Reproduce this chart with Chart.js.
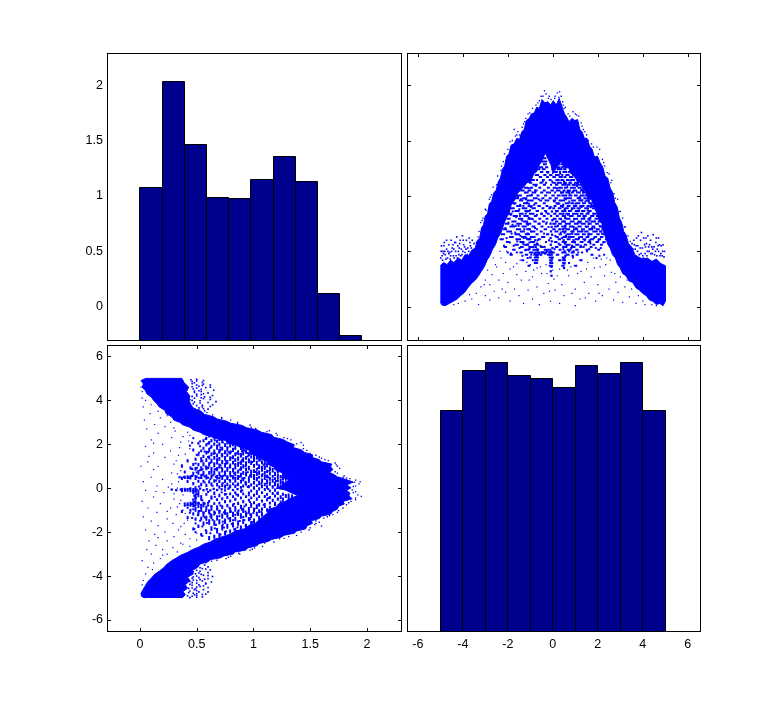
<!DOCTYPE html>
<html>
<head>
<meta charset="utf-8">
<title>plotmatrix</title>
<script src="https://cdn.jsdelivr.net/npm/chart.js@4/dist/chart.umd.min.js"></script>
<style>
  html, body { margin: 0; background: #fff; }
  canvas { position: absolute; }
</style>
</head>
<body>
<canvas id="c-tl" width="349" height="323" style="left:57px;top:47px"></canvas>
<canvas id="c-tr" width="348" height="323" style="left:357px;top:47px"></canvas>
<canvas id="c-bl" width="349" height="322" style="left:57px;top:339px"></canvas>
<canvas id="c-br" width="348" height="322" style="left:357px;top:339px"></canvas>
<script>
// histogram of the first variable (0..2)
const histAX = [0.098, 0.293, 0.489, 0.684, 0.880, 1.075, 1.271, 1.466, 1.662, 1.857];
const histAY = [1.074, 2.03, 1.462, 0.983, 0.974, 1.146, 1.353, 1.128, 0.117, -0.262];
// histogram of the second variable (-5..5)
const histBX = [-4.5, -3.5, -2.5, -1.5, -0.5, 0.5, 1.5, 2.5, 3.5, 4.5];
const histBY = [3.55, 5.37, 5.73, 5.14, 5.0, 4.6, 5.6, 5.24, 5.73, 3.55];

const ticksA = [0, 0.5, 1, 1.5, 2];
const ticksB = [-6, -4, -2, 0, 2, 4, 6];

// solid part of the cloud, outline
const bandX = [-5, -4.85, -4.7, -4.55, -4.4, -4.2, -4.05, -3.9, -3.75, -3.6, -3.45, -3.35, -3.25, -3.17, -3.08, -3, -2.9, -2.82, -2.72, -2.62, -2.52, -2.42, -2.33, -2.24, -2.14, -2.05, -1.95, -1.85, -1.72, -1.6, -1.48, -1.38, -1.27, -1.18, -1.05, -0.95, -0.82, -0.72, -0.6, -0.48, -0.35, -0.22, -0.1, 0.02, 0.15, 0.28, 0.42, 0.52, 0.62, 0.72, 0.85, 0.98, 1.1, 1.2, 1.3, 1.4, 1.52, 1.63, 1.75, 1.85, 1.98, 2.1, 2.22, 2.32, 2.44, 2.55, 2.66, 2.75, 2.86, 2.96, 3.06, 3.15, 3.25, 3.36, 3.5, 3.65, 3.8, 4, 4.2, 4.4, 4.6, 4.8, 5,
  5, 4.9, 4.75, 4.6, 4.44, 4.3, 4.15, 4, 3.85, 3.7, 3.55, 3.4, 3.25, 3.1, 3, 2.88, 2.78, 2.65, 2.55, 2.45, 2.36, 2.25, 2.18, 2.05, 1.95, 1.82, 1.72, 1.58, 1.47, 1.34, 1.22, 1.08, 0.95, 0.8, 0.68, 0.5, 0.38, 0.22, 0.1, 0, -0.08, -0.2, -0.34, -0.45, -0.6, -0.72, -0.85, -0.98, -1.15, -1.3, -1.45, -1.58, -1.7, -1.85, -1.95, -2.08, -2.2, -2.32, -2.45, -2.55, -2.68, -2.8, -2.92, -3.05, -3.18, -3.3, -3.45, -3.62, -3.78, -3.92, -4.1, -4.25, -4.42, -4.6, -4.78, -4.92, -5];
const bandY = [0.37, 0.4, 0.38, 0.42, 0.4, 0.44, 0.42, 0.47, 0.46, 0.51, 0.53, 0.6, 0.62, 0.71, 0.74, 0.82, 0.84, 0.93, 0.95, 1.03, 1.05, 1.13, 1.16, 1.24, 1.27, 1.36, 1.38, 1.46, 1.47, 1.52, 1.51, 1.58, 1.6, 1.68, 1.7, 1.74, 1.75, 1.8, 1.79, 1.87, 1.84, 1.85, 1.82, 1.86, 1.82, 1.88, 1.8, 1.74, 1.71, 1.67, 1.7, 1.68, 1.69, 1.6, 1.58, 1.52, 1.52, 1.45, 1.42, 1.35, 1.36, 1.3, 1.26, 1.18, 1.16, 1.07, 1.03, 0.94, 0.9, 0.8, 0.76, 0.68, 0.65, 0.57, 0.54, 0.47, 0.45, 0.43, 0.44, 0.41, 0.43, 0.39, 0.37,
  0.05, 0.01, 0.03, 0.02, 0.05, 0.06, 0.1, 0.12, 0.15, 0.17, 0.22, 0.23, 0.28, 0.3, 0.35, 0.38, 0.44, 0.47, 0.53, 0.56, 0.62, 0.68, 0.75, 0.78, 0.85, 0.9, 0.97, 0.97, 1.03, 1.06, 1.12, 1.13, 1.19, 1.2, 1.27, 1.25, 1.32, 1.27, 1.25, 1.2, 1.28, 1.33, 1.39, 1.33, 1.28, 1.22, 1.2, 1.13, 1.12, 1.08, 1.05, 1.02, 0.96, 0.92, 0.84, 0.8, 0.73, 0.66, 0.62, 0.56, 0.52, 0.46, 0.42, 0.36, 0.32, 0.28, 0.24, 0.21, 0.17, 0.13, 0.1, 0.07, 0.05, 0.03, 0.01, 0.015, 0.04];

// busy middle of the cloud: short runs of pixels, each row of y has a flat list of x from, x to
const clutterY = [1.34, 1.31, 1.285, 1.26, 1.24, 1.215, 1.19, 1.17, 1.145, 1.12, 1.1, 1.075, 1.05, 1.03, 1.005, 0.98, 0.96, 0.935, 0.91, 0.89, 0.865, 0.84, 0.82, 0.795, 0.77, 0.75, 0.725, 0.7, 0.68, 0.655, 0.63, 0.61, 0.585, 0.56, 0.54, 0.515, 0.49, 0.47, 0.445, 0.42, 0.395, 0.37];
const clutterX = [
  [-0.42, -0.33],
  [-0.5, -0.44, -0.36, -0.29, 0.28, 0.36],
  [-0.4, -0.31, 0.22, 0.27, 0.38, 0.46],
  [-0.57, -0.47, -0.3, -0.25, 0.16, 0.3, 0.41, 0.44, 0.6, 0.66],
  [-0.66, -0.6, -0.44, -0.37, 0.08, 0.12, 0.23, 0.38, 0.5, 0.56],
  [-0.53, -0.47, -0.26, -0.2, 0.05, 0.18, 0.32, 0.36, 0.47, 0.6, 0.72, 0.8],
  [-0.76, -0.66, -0.38, -0.33, -0.12, -0.06, 0.14, 0.26, 0.42, 0.45, 0.6, 0.7, 0.9, 0.94],
  [-0.58, -0.52, -0.26, -0.22, 0.02, 0.07, 0.3, 0.4, 0.52, 0.56, 0.76, 0.87, 1.0, 1.06],
  [-0.92, -0.84, -0.7, -0.66, -0.44, -0.4, -0.14, -0.1, 0.16, 0.26, 0.38, 0.46, 0.63, 0.7, 0.84, 0.94],
  [-1.02, -0.96, -0.55, -0.5, -0.3, -0.26, 0.02, 0.09, 0.22, 0.36, 0.5, 0.58, 0.74, 0.8, 0.99, 1.12],
  [-0.86, -0.72, -0.4, -0.35, -0.08, -0.04, 0.14, 0.2, 0.42, 0.56, 0.66, 0.74, 0.88, 0.94, 1.08, 1.2],
  [-1.24, -1.14, -0.98, -0.92, -0.6, -0.56, -0.22, -0.18, 0.04, 0.1, 0.28, 0.4, 0.54, 0.6, 0.8, 0.98, 1.14, 1.22],
  [-1.4, -1.3, -1.08, -1.0, -0.76, -0.72, -0.4, -0.36, -0.06, 0, 0.18, 0.3, 0.48, 0.52, 0.66, 0.76, 0.92, 1.04, 1.26, 1.34],
  [-1.2, -1.12, -0.9, -0.78, -0.52, -0.47, -0.26, -0.22, 0.1, 0.14, 0.36, 0.46, 0.6, 0.72, 0.84, 0.88, 1.08, 1.2, 1.36, 1.42],
  [-1.56, -1.42, -1.04, -0.94, -0.68, -0.64, -0.34, -0.3, -0.02, 0.04, 0.22, 0.3, 0.42, 0.6, 0.74, 0.82, 0.98, 1.06, 1.24, 1.36, 1.46, 1.52],
  [-1.64, -1.54, -1.32, -1.18, -0.84, -0.72, -0.46, -0.42, -0.14, -0.1, 0.12, 0.18, 0.52, 0.58, 0.66, 0.8, 1.1, 1.22, 1.4, 1.46, 1.56, 1.62],
  [-1.46, -1.36, -1.12, -1.02, -0.96, -0.9, -0.56, -0.52, -0.24, -0.2, 0.04, 0.1, 0.3, 0.4, 0.46, 0.5, 0.86, 0.98, 1.18, 1.3, 1.5, 1.58],
  [-1.76, -1.66, -1.28, -1.14, -0.78, -0.74, -0.4, -0.36, 0.16, 0.24, 0.58, 0.7, 0.82, 0.9, 1.06, 1.18, 1.34, 1.42, 1.62, 1.7],
  [-1.58, -1.44, -1.08, -0.94, -0.64, -0.58, -0.28, -0.24, 0.08, 0.12, 0.36, 0.44, 0.66, 0.74, 0.94, 1.04, 1.22, 1.36, 1.54, 1.6, 1.72, 1.8],
  [-1.86, -1.74, -1.34, -1.18, -0.9, -0.8, -0.46, -0.42, -0.16, -0.12, 0.02, 0.06, 0.26, 0.34, 0.56, 0.66, 0.84, 0.96, 1.1, 1.2, 1.44, 1.56, 1.78, 1.84],
  [-1.66, -1.52, -1.22, -1.06, -0.72, -0.66, -0.34, -0.3, 0.14, 0.22, 0.42, 0.56, 0.72, 0.8, 1.02, 1.16, 1.3, 1.4, 1.62, 1.68],
  [-1.94, -1.84, -1.46, -1.34, -1.02, -0.86, -0.52, -0.48, -0.22, -0.18, 0.06, 0.12, 0.3, 0.38, 0.6, 0.72, 0.9, 1.04, 1.24, 1.32, 1.5, 1.58, 1.84, 1.9],
  [-1.74, -1.6, -1.26, -1.12, -0.8, -0.74, -0.4, -0.36, 0.18, 0.22, 0.44, 0.54, 0.76, 0.88, 1.12, 1.2, 1.36, 1.46, 1.7, 1.8, 1.96, 2],
  [-2.02, -1.92, -1.5, -1.36, -1.08, -0.94, -0.6, -0.56, -0.28, -0.24, 0.06, 0.12, 0.3, 0.36, 0.62, 0.74, 0.96, 1.08, 1.28, 1.4, 1.58, 1.66, 1.9, 1.98],
  [-1.8, -1.66, -1.3, -1.14, -0.82, -0.76, -0.44, -0.4, 0.14, 0.2, 0.42, 0.54, 0.8, 0.92, 1.14, 1.24, 1.48, 1.54, 1.72, 1.82, 2.04, 2.08],
  [-2.08, -1.98, -1.58, -1.42, -1.16, -1, -0.64, -0.6, -0.3, -0.26, 0.02, 0.06, 0.28, 0.36, 0.58, 0.7, 0.98, 1.1, 1.3, 1.42, 1.6, 1.68, 1.92, 2],
  [-1.88, -1.72, -1.34, -1.2, -0.9, -0.82, -0.5, -0.46, 0.1, 0.18, 0.42, 0.52, 0.76, 0.88, 1.14, 1.24, 1.46, 1.56, 1.76, 1.84, 2.1, 2.16],
  [-2.18, -2.08, -1.6, -1.46, -1.14, -1.02, -0.7, -0.66, -0.36, -0.3, 0.02, 0.08, 0.28, 0.34, 0.6, 0.72, 0.94, 1.08, 1.3, 1.38, 1.62, 1.74, 1.96, 2.04, 2.2, 2.24],
  [-2.02, -1.86, -1.42, -1.28, -0.92, -0.82, -0.54, -0.5, 0.12, 0.2, 0.44, 0.56, 0.82, 0.92, 1.12, 1.26, 1.44, 1.54, 1.8, 1.88, 2.1, 2.16],
  [-2.26, -2.16, -1.66, -1.5, -1.2, -1.06, -0.72, -0.68, -0.26, -0.2, 0.3, 0.36, 0.64, 0.76, 1.0, 1.14, 1.34, 1.42, 1.62, 1.72, 1.98, 2.04, 2.26, 2.32],
  [-1.9, -1.78, -1.36, -1.22, -0.98, -0.84, -0.42, -0.38, 0.16, 0.22, 0.48, 0.58, 0.78, 0.92, 1.18, 1.3, 1.5, 1.58, 1.86, 1.92, 2.14, 2.2],
  [-2.32, -2.22, -1.62, -1.46, -1.14, -1.0, -0.62, -0.58, 0.26, 0.32, 0.66, 0.74, 1.02, 1.14, 1.36, 1.44, 1.7, 1.78, 2.04, 2.1, 2.36, 2.4],
  [-2.04, -1.96, -1.44, -1.3, -0.96, -0.84, -0.3, -0.26, 0.1, 0.16, 0.44, 0.58, 0.86, 0.98, 1.24, 1.32, 1.58, 1.66, 1.94, 2, 2.26, 2.3],
  [-1.66, -1.56, -1.26, -1.1, -0.82, -0.66, 0.3, 0.34, 0.62, 0.74, 1.04, 1.14, 1.42, 1.48, 1.8, 1.84, 2.14, 2.18],
  [-2.14, -2.08, -1.42, -1.34, -1.04, -0.9, -0.52, -0.44, 0.14, 0.2, 0.46, 0.6, 0.84, 0.96, 1.22, 1.28, 1.68, 1.72],
  [-1.76, -1.7, -1.2, -1.1, -0.86, -0.66, -0.36, -0.12, 0.3, 0.34, 0.66, 0.78, 1.04, 1.1, 1.5, 1.54, 2.02, 2.06],
  [-1.44, -1.38, -1.02, -0.9, -0.78, -0.6, -0.5, -0.3, -0.12, 0.04, 0.42, 0.56, 0.84, 0.92, 1.3, 1.34],
  [-1.88, -1.84, -1.2, -1.14, -0.82, -0.64, -0.22, -0.04, 0.18, 0.24, 0.62, 0.7, 1.06, 1.1, 1.72, 1.76],
  [-1.02, -0.98, -0.8, -0.66, -0.14, 0.0, 0.44, 0.54, 0.9, 0.94],
  [-1.36, -1.32, -0.78, -0.68, -0.12, -0.04, 0.28, 0.34, 0.46, 0.54, 1.22, 1.26],
  [-0.8, -0.7, -0.12, -0.02, 0.46, 0.52, 0.72, 0.76],
  [-1.08, -1.04, -0.14, -0.04, 0.42, 0.48, 1.0, 1.04]
];

// loose pixels between the runs, thickest either side of the pale core
const fillDots = [[-1.87,0.83],[-1.79,0.74],[-1.71,0.93],[-1.67,0.67],[-1.63,0.81],[-1.58,0.59],[-1.55,0.99],[-1.52,0.73],[-1.49,0.88],[-1.44,0.64],[-1.41,0.97],[-1.38,0.78],[-1.33,0.57],[-1.31,0.91],[-1.27,0.7],[-1.24,1.03],[-1.21,0.84],[-1.18,0.62],[-1.15,0.94],[-1.1,0.74],[-1.07,1.07],[-1.04,0.58],[-1.01,0.87],[-0.97,0.68],[-0.93,1.01],[-0.89,0.79],[-0.86,0.54],[-0.83,0.92],[-0.79,0.71],[-0.75,1.09],[-0.71,0.83],[-0.67,0.6],[-0.63,0.97],[-0.59,0.75],[-2.11,0.71],[-2.05,0.62],[-1.97,0.76],[-1.91,0.58],[-1.83,0.66],[-1.74,0.55],[-1.6,0.49],[-1.48,0.53],[-1.35,0.46],[-1.23,0.51],[-1.12,0.44],[-0.96,0.47],[-0.89,0.42],[-0.55,0.55],[-0.5,0.84],[-0.45,1.13],[-0.39,0.66],[-0.32,0.96],[-0.27,0.76],[-0.22,1.21],[-0.17,0.6],[-0.13,1.03],[-0.03,1.13],[0.03,0.79],[0.06,0.95],[0.09,1.17],[0.11,0.64],[0.15,0.86],[0.19,1.07],[0.23,0.73],[0.26,0.57],[0.29,0.93],[0.33,1.2],[0.37,0.79],[0.39,1.03],[0.41,0.62],[0.44,0.9],[0.47,0.52],[0.5,1.13],[0.55,0.71],[0.58,0.97],[0.61,0.55],[0.64,1.08],[0.67,0.83],[0.7,0.63],[0.73,0.95],[0.76,0.75],[0.79,1.14],[0.82,0.53],[0.85,0.88],[0.88,0.68],[0.91,1.04],[0.95,0.79],[0.98,0.58],[1.01,0.93],[1.04,0.71],[1.07,1.09],[1.1,0.84],[1.13,0.49],[1.16,0.62],[1.19,0.99],[1.22,0.76],[1.25,0.55],[1.28,0.9],[1.32,0.68],[1.35,1.03],[1.39,0.8],[1.42,0.6],[1.45,0.95],[1.49,0.72],[1.52,0.5],[1.55,0.87],[1.59,0.66],[1.63,0.78],[1.67,0.57],[1.71,0.92],[1.75,0.71],[1.79,0.84],[1.83,0.62],[1.87,0.77],[1.91,0.53],[1.95,0.68],[1.99,0.82],[2.03,0.6],[2.08,0.73],[2.13,0.53],[2.18,0.66],[2.24,0.58],[2.28,0.47],[-2.17,0.55],[-2.0,0.49],[-1.86,0.48],[1.94,0.44],[2.07,0.46],[-0.48,0.63],[-0.36,0.54],[-0.29,0.85],[-0.19,0.72],[0.12,0.75],[0.21,0.93],[0.35,0.67],[0.08,0.52],[-0.98,0.9],[-1.2,0.97],[-1.46,0.82],[-1.29,0.62],[-1.06,0.93],[-0.81,0.63],[-0.69,0.52],[0.72,0.5],[0.93,0.72],[1.16,0.87],[1.37,0.54],[1.58,1.0],[1.31,0.96],[1.13,0.76],[0.74,1.02],[0.98,1.1],[1.27,1.06],[-1.13,1.0],[-0.79,1.05],[-1.45,0.92],[-1.65,0.73],[1.62,0.52],[1.85,0.71],[2.2,0.72],[-1.95,0.91],[-1.78,0.86]];

// dark columns in the middle, a few pixels wide and broken up
const streakDots = [[-0.1,0.9],[-0.04,0.86],[-0.08,0.82],[-0.02,0.78],[-0.1,0.75],[-0.05,0.72],[-0.08,0.68],[-0.03,0.65],[-0.1,0.62],[-0.05,0.59],[-0.09,0.56],[-0.02,0.53],[-0.07,0.5],[-0.12,0.47],[-0.04,0.44],[-0.08,0.4],[-0.06,0.36],[-0.09,0.32],[-0.06,0.28],[0.46,0.92],[0.53,0.88],[0.47,0.84],[0.55,0.8],[0.49,0.77],[0.56,0.73],[0.46,0.7],[0.52,0.67],[0.58,0.64],[0.48,0.6],[0.54,0.57],[0.47,0.54],[0.52,0.5],[0.56,0.46],[0.48,0.43],[0.51,0.39],[0.5,0.35],[-0.78,0.6],[-0.7,0.57],[-0.76,0.54],[-0.68,0.51],[-0.8,0.48],[-0.72,0.46],[-0.76,0.42],[-1.14,0.86],[-1.06,0.8],[-1.14,0.75],[-1.04,0.7],[-1.12,0.66],[-1.06,0.61],[-1.12,0.56],[-1.04,0.52],[1.6,0.95],[1.68,0.9],[1.58,0.85],[1.66,0.8],[1.6,0.75],[1.66,0.7],[1.58,0.65],[1.64,0.6],[0.86,0.66],[0.92,0.6],[0.86,0.55],[0.92,0.5],[0.88,0.46],[-0.62,0.48],[-0.52,0.47],[-0.44,0.49],[-0.34,0.48],[-0.26,0.5],[-0.16,0.49]];

// single pixels: the ragged upper edge, the shoulders and the thin bit under the band
const edgeDots = [[-0.37,1.95],[-0.52,1.9],[-0.3,1.92],[-0.6,1.86],[-0.44,1.9],[-0.2,1.88],[-0.08,1.87],[0.08,1.88],[0.2,1.93],[0.3,1.94],[0.37,1.9],[0.44,1.85],[0.27,1.89],[0.5,1.79],[-0.75,1.82],[-0.9,1.79],[-1.02,1.75],[-1.1,1.74],[-1.2,1.7],[-1.3,1.65],[-1.36,1.62],[-1.6,1.55],[-1.72,1.6],[-1.55,1.58],[-1.9,1.49],[-2.15,1.38],[-2.2,1.31],[-2.3,1.23],[-2.45,1.18],[-2.65,1.08],[-2.72,1.01],[-2.82,0.97],[-3.0,0.88],[-3.1,0.8],[-3.2,0.76],[-3.28,0.68],[0.56,1.8],[0.75,1.72],[0.9,1.76],[1.0,1.74],[1.15,1.72],[1.3,1.63],[1.42,1.58],[1.5,1.55],[1.72,1.47],[1.96,1.44],[2.08,1.42],[2.2,1.33],[2.3,1.27],[2.5,1.2],[2.62,1.14],[2.72,1.02],[2.88,0.97],[3.0,0.86],[3.1,0.8],[3.22,0.72],[3.34,0.64],[3.44,0.59],[-1.48,1.55],[-1.66,1.54],[-1.8,1.5],[-1.25,1.67],[-0.66,1.84],[-0.16,1.9],[0.1,1.9],[0.46,1.82],[0.68,1.74],[1.06,1.73],[1.26,1.66],[1.36,1.6],[1.58,1.5],[1.8,1.44],[2.02,1.38],[2.26,1.3],[2.42,1.21],[2.58,1.12],[2.78,0.98],[2.94,0.86],[3.18,0.72],[-2.0,1.42],[-2.28,1.27],[-2.5,1.1],[-2.78,0.99],[-2.96,0.87],[-3.14,0.78],[-3.32,0.63],[-3.4,0.58]];
const lumpDots = [[-4.95,0.55],[-4.88,0.5],[-4.84,0.55],[-4.78,0.47],[-4.72,0.52],[-4.68,0.44],[-4.62,0.56],[-4.58,0.49],[-4.52,0.6],[-4.47,0.53],[-4.42,0.46],[-4.36,0.58],[-4.32,0.5],[-4.27,0.63],[-4.22,0.55],[-4.18,0.47],[-4.12,0.6],[-4.07,0.52],[-4.02,0.64],[-3.96,0.56],[-3.9,0.49],[-3.84,0.6],[-3.78,0.53],[-3.72,0.62],[-3.66,0.55],[-3.58,0.6],[-3.5,0.57],[-4.98,0.44],[-4.9,0.42],[-4.56,0.43],[-4.44,0.56],[-4.24,0.44],[-4.16,0.53],[-4.04,0.47],[-3.92,0.54],[-3.8,0.47],[-4.72,0.6],[-4.32,0.58],[-4.62,0.48],[-4.85,0.48],[-4.92,0.46],[-4.8,0.5],[-4.75,0.43],[-4.66,0.5],[-4.54,0.46],[-4.5,0.5],[-4.38,0.44],[-4.3,0.46],[-4.2,0.5],[-4.1,0.46],[-4,0.5],[-3.86,0.52],[-3.74,0.5],[-3.68,0.58],[-3.62,0.53],[-4.96,0.5],[-4.82,0.58],[-4.4,0.52],[-4.14,0.57],[-3.98,0.6],[3.44,0.53],[3.52,0.57],[3.6,0.6],[3.66,0.52],[3.72,0.62],[3.78,0.55],[3.84,0.47],[3.9,0.6],[3.94,0.67],[3.98,0.53],[4.04,0.62],[4.1,0.48],[4.16,0.57],[4.22,0.64],[4.28,0.5],[4.34,0.6],[4.4,0.54],[4.46,0.65],[4.52,0.47],[4.58,0.58],[4.64,0.52],[4.7,0.62],[4.76,0.46],[4.82,0.55],[4.88,0.5],[4.94,0.45],[4,0.46],[4.2,0.5],[4.42,0.48],[4.7,0.5],[3.88,0.53],[4.08,0.56],[4.3,0.56],[4.5,0.54],[4.74,0.56],[4.9,0.56],[3.7,0.55],[3.8,0.64],[3.56,0.52],[3.76,0.5],[3.92,0.48],[4.02,0.44],[4.12,0.54],[4.18,0.46],[4.26,0.54],[4.36,0.48],[4.44,0.52],[4.56,0.5],[4.62,0.46],[4.68,0.55],[4.8,0.48],[4.86,0.46],[4.96,0.5],[4.6,0.62],[4.14,0.62],[3.62,0.56]];
const lowDots = [[-4.4,0.02],[-4.2,0.03],[-3.9,0.05],[-3.7,0.11],[-3.6,0.07],[-3.4,0.12],[-3.3,0.02],[-3.2,0.18],[-3.0,0.1],[-3,0.24],[-2.8,0.06],[-2.8,0.2],[-2.7,0.29],[-2.6,0.14],[-2.5,0.36],[-2.4,0.08],[-2.4,0.24],[-2.3,0.44],[-2.2,0.3],[-2.1,0.13],[-2.1,0.4],[-2,0.22],[-1.9,0.05],[-1.9,0.34],[-1.8,0.47],[-1.7,0.16],[-1.6,0.29],[-1.6,0.39],[-1.5,0.1],[-1.4,0.24],[-1.3,0.03],[-1.3,0.42],[-1.2,0.32],[-1.1,0.15],[-1,0.38],[-0.9,0.07],[-0.9,0.27],[-0.7,0.18],[-0.7,0.35],[-0.6,0.02],[-0.5,0.3],[-0.4,0.12],[-0.3,0.38],[-0.2,0.21],[-0.1,0.05],[0,0.33],[0.1,0.15],[0.2,0.28],[0.3,0.03],[0.4,0.2],[0.5,0.1],[0.7,0.28],[0.8,0.36],[1,0.01],[1,0.16],[1.1,0.3],[1.2,0.07],[1.3,0.42],[1.4,0.22],[1.5,0.34],[1.6,0.12],[1.7,0.27],[1.8,0.44],[1.9,0.05],[2,0.2],[2.1,0.36],[2.2,0.1],[2.3,0.28],[2.4,0.44],[2.5,0.16],[2.6,0.31],[2.7,0.06],[2.8,0.22],[2.9,0.13],[3,0.27],[3.1,0.04],[3.2,0.18],[3.4,0.09],[3.5,0.16],[3.7,0.03],[3.8,0.1],[4,0.05],[4.1,0.02],[4.4,0.02],[4.6,0.01],[-2.65,0.44],[-2.35,0.5],[-2.55,0.38],[-2.05,0.5],[-1.75,0.36],[-1.45,0.42],[-1.15,0.4],[-0.85,0.33],[-0.55,0.36],[-0.25,0.3],[0.05,0.25],[0.3,0.34],[0.65,0.33],[0.95,0.37],[1.25,0.32],[1.55,0.4],[1.85,0.35],[2.15,0.43],[2.35,0.38],[2.55,0.42],[2.75,0.3],[-3.05,0.2],[-2.9,0.33],[-2.25,0.16],[-1.05,0.24],[-0.15,0.14],[0.85,0.12],[1.45,0.08],[2.05,0.12],[3.3,0.24]];

const BAR_FILL = '#00008f';
const DOT_BLUE = '#0000ff';

// border, bar outlines and inward ticks on whole pixels, Chart.js only ticks outwards and blurs bars
const framePlugin = {
  id: 'frame',
  afterDraw(chart, args, opts) {
    const { ctx, chartArea: a, scales } = chart;
    ctx.save();
    ctx.strokeStyle = '#000';
    ctx.lineWidth = 1;
    if (opts.bars) {
      ctx.beginPath();
      chart.getDatasetMeta(0).data.forEach(b => {
        // floor so the line sits on the pixel holding the seam between two bars
        const l = Math.floor(b.x - b.width / 2) + 0.5;
        const r = Math.floor(b.x + b.width / 2) + 0.5;
        const t = Math.floor(b.y) + 0.5;
        ctx.moveTo(l, a.bottom); ctx.lineTo(l, t); ctx.lineTo(r, t); ctx.lineTo(r, a.bottom);
      });
      ctx.stroke();
    }
    ctx.strokeRect(a.left + 0.5, a.top + 0.5, a.right - a.left, a.bottom - a.top);
    if (opts.ticks) {
      ctx.beginPath();
      scales.x.ticks.forEach(t => {
        const p = Math.round(scales.x.getPixelForValue(t.value)) + 0.5;
        ctx.moveTo(p, a.top); ctx.lineTo(p, a.top + 4);
        ctx.moveTo(p, a.bottom); ctx.lineTo(p, a.bottom - 3);
      });
      scales.y.ticks.forEach(t => {
        const p = Math.round(scales.y.getPixelForValue(t.value)) + 0.5;
        ctx.moveTo(a.left, p); ctx.lineTo(a.left + 4, p);
        ctx.moveTo(a.right, p); ctx.lineTo(a.right - 3, p);
      });
      ctx.stroke();
    }
    ctx.restore();
  }
};

const axis = (range, values, showLabels, padding, fit) => ({
  type: 'linear',
  min: range[0],
  max: range[1],
  offset: false,
  grid: { display: false, drawTicks: false },
  border: { display: false },
  afterBuildTicks: s => { s.ticks = values.map(value => ({ value })); },
  afterFit: fit,
  ticks: {
    display: showLabels,
    padding,
    autoSkip: false,
    maxRotation: 0,
    color: '#000',
    font: { family: 'Liberation Sans', size: 12.5 },
    callback: v => String(v)
  }
});

const options = (xRange, xTicks, showX, yRange, yTicks, showY, isCloud) => ({
  responsive: false,
  animation: false,
  devicePixelRatio: 1,
  layout: { autoPadding: false, padding: { top: 6, right: 5 } },
  plugins: { legend: { display: false }, tooltip: { enabled: false }, frame: { ticks: isCloud, bars: !isCloud } },
  scales: {
    x: axis(xRange, xTicks, showX, 6, s => { s.height = 30; s.paddingLeft = 0; s.paddingRight = 0; }),
    y: axis(yRange, yTicks, showY, 4, s => { s.width = 50; s.paddingTop = 0; s.paddingBottom = 0; })
  }
});

const histDataset = (xs, ys, base) => ({
  data: xs.map((x, i) => ({ x, y: ys[i] })),
  base,
  backgroundColor: BAR_FILL,
  borderWidth: 0,
  inflateAmount: 0,
  barPercentage: 1,
  categoryPercentage: 1
});

// same cloud twice: the bottom left panel has the axes swapped
const cloudDatasets = swap => {
  const pt = (x, y) => (swap ? { x: y, y: x } : { x, y });
  const dots = (pairs, radius) => ({
    data: pairs.map(p => pt(p[0], p[1])),
    pointStyle: 'rect',
    pointRadius: radius,
    pointBorderWidth: 0,
    pointBackgroundColor: DOT_BLUE,
    showLine: false
  });
  // runs are separate two point lines, split by null gaps
  const runs = clutterY.flatMap((y, i) => clutterX[i].flatMap((x, j) => (
    j % 2 ? [pt(x, y), { x: null, y: null }] : [pt(x, y)]
  )));
  return [
    {
      data: bandX.map((x, i) => pt(x, bandY[i])),
      showLine: true,
      pointRadius: 0,
      borderColor: DOT_BLUE,
      borderWidth: 1,
      fill: 'shape',
      backgroundColor: DOT_BLUE
    },
    {
      data: runs,
      showLine: true,
      spanGaps: false,
      pointRadius: 0,
      borderColor: DOT_BLUE,
      borderWidth: 2,
      borderCapStyle: 'square'
    },
    dots(fillDots, 1.4),
    dots(streakDots, 1.6),
    dots(edgeDots, 0.95),
    dots(lumpDots, 1.15),
    dots(lowDots, 0.85)
  ];
};

const rangeAX = [-0.29, 2.30];
const rangeAY = [-0.30, 2.29];
const rangeBX = [-6.48, 6.54];
const rangeBY = [-6.5, 6.52];

new Chart(document.getElementById('c-tl'), {
  type: 'bar',
  data: { datasets: [histDataset(histAX, histAY, rangeAY[0])] },
  options: options(rangeAX, ticksA, false, rangeAY, ticksA, true, false),
  plugins: [framePlugin]
});
new Chart(document.getElementById('c-tr'), {
  type: 'scatter',
  data: { datasets: cloudDatasets(false) },
  options: options(rangeBX, ticksB, false, rangeAY, ticksA, false, true),
  plugins: [framePlugin]
});
new Chart(document.getElementById('c-bl'), {
  type: 'scatter',
  data: { datasets: cloudDatasets(true) },
  options: options(rangeAX, ticksA, true, rangeBY, ticksB, true, true),
  plugins: [framePlugin]
});
new Chart(document.getElementById('c-br'), {
  type: 'bar',
  data: { datasets: [histDataset(histBX, histBY, rangeBY[0])] },
  options: options(rangeBX, ticksB, true, rangeBY, ticksB, false, false),
  plugins: [framePlugin]
});
</script>
</body>
</html>
